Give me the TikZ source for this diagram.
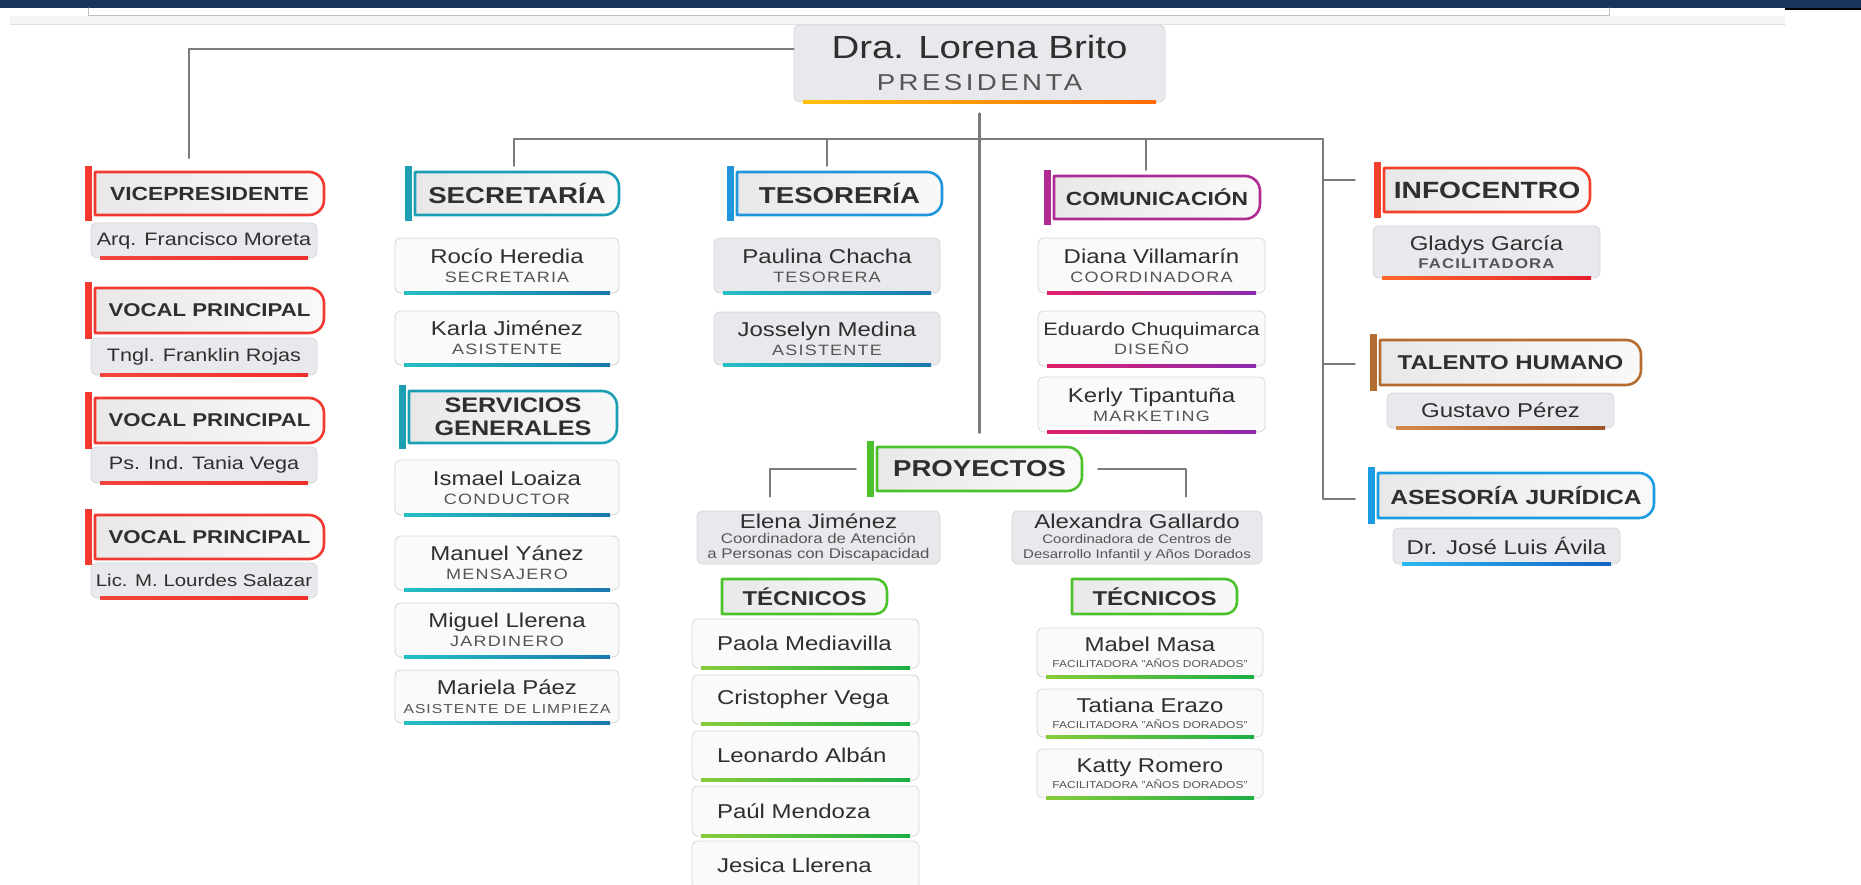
\documentclass[tikz,border=0pt]{standalone}
\usepackage{fontspec}
\setmainfont{Liberation Sans}[FakeStretch=1.2]
\newfontfamily\rolefont{Liberation Sans}[FakeStretch=1.2,LetterSpace=8]
\definecolor{nav}{HTML}{1B355A}
\definecolor{cn}{HTML}{7B7B7B}
\definecolor{tx}{HTML}{2F2F2F}
\definecolor{rlc}{HTML}{555555}
\definecolor{gb}{HTML}{E7E9EC}
\definecolor{wb}{HTML}{FAFAFA}
\definecolor{bx}{HTML}{D4D6D9}
\definecolor{hl}{HTML}{E8E8E8}
\definecolor{hr}{HTML}{F9F9F9}
\definecolor{rd}{HTML}{F3392F}
\definecolor{tl}{HTML}{1C9FB3}
\definecolor{bl}{HTML}{1E95DD}
\definecolor{pu}{HTML}{B02A92}
\definecolor{og}{HTML}{F2402A}
\definecolor{brn}{HTML}{B46C30}
\definecolor{ab}{HTML}{1A9BE3}
\definecolor{gn}{HTML}{4DC12C}
\definecolor{ra}{HTML}{F2453C}\definecolor{rb}{HTML}{F0302A}
\definecolor{ta}{HTML}{24BFC4}\definecolor{tb}{HTML}{1B78AE}
\definecolor{pa}{HTML}{E0206A}\definecolor{pb}{HTML}{8C2BB0}
\definecolor{oa}{HTML}{FF6A2A}\definecolor{ob}{HTML}{E41E2E}
\definecolor{ba}{HTML}{D28A4C}\definecolor{bb}{HTML}{9E5428}
\definecolor{aa}{HTML}{2CB8F2}\definecolor{abb}{HTML}{1463C4}
\definecolor{ga}{HTML}{86CC3A}\definecolor{gbb}{HTML}{1CAE45}
\definecolor{ya}{HTML}{FFC20E}\definecolor{yb}{HTML}{FF6A00}
\begin{document}
\begin{tikzpicture}[x=1pt,y=1pt,line join=round,line cap=round,text=tx,font=\fontsize{20}{19}\selectfont]
\def\fs#1#2{\fontsize{#1}{#2}\selectfont}
\def\rl{\rolefont\fs{15}{19}\color{rlc}}
\def\sm{\fs{14}{15}\color{rlc}}
\def\tn{\fs{12.5}{15}\color{rlc}}
\def\fa{\fs{10}{16}\color{rlc}FACILITADORA "AÑOS DORADOS"}
\tikzset{con/.style={draw=cn,line width=2.2pt},
 pbox/.style={draw=bx,line width=0.8pt,rounded corners=6pt,align=center,inner sep=0pt},
 hdt/.style={align=center,inner sep=0pt},
 ur/.style={left color=ra,right color=rb},ut/.style={left color=ta,right color=tb},
 up/.style={left color=pa,right color=pb},uo/.style={left color=oa,right color=ob},
 ub/.style={left color=ba,right color=bb},ua/.style={left color=aa,right color=abb},
 ug/.style={left color=ga,right color=gbb},uy/.style={left color=ya,right color=yb},un/.style={}}
\def\pb#1#2#3#4#5#6#7#8{\node[pbox,fill=#6,minimum width=#4-#2,minimum height=#5-#3] (#1) at ({(#2+#4)/2},{-(#3+#5)/2}) {#8};
\path[#7] (#2+9,-#5-1.6) rectangle (#4-9,-#5+1.6);}
\useasboundingbox (0,0) rectangle (1861,-885);
\fill[nav] (0,0) rectangle (1861,-8);
\fill[black] (1785,-8) rectangle (1861,-10);
\fill[black!4] (10,-16) rectangle (1785,-25);
\draw[black!12,line width=1pt] (10,-25) -- (1785,-25);
\draw[black!25,line width=1pt] (88,-8) |- (1609,-16) -- (1609,-8);
\foreach \n/\cl/\xa/\ya/\xb/\yb/\s/\txt in {vice/rd/95/172/324/215/19/VICEPRESIDENTE,voca/rd/95/288/324/333/18.5/VOCAL PRINCIPAL,
 vocb/rd/95/398/324/443/18.5/VOCAL PRINCIPAL,vocc/rd/95/515/324/559/18.5/VOCAL PRINCIPAL,sec/tl/415/172/619/215/23/SECRETARÍA,
 serv/tl/409/391/617/443/21/{SERVICIOS\\GENERALES},tes/bl/737/172/942/215/23/TESORERÍA,com/pu/1054/176/1260/219/19/COMUNICACIÓN,
 info/og/1384/168/1590/212/23.5/INFOCENTRO,tal/brn/1380/340/1641/385/20/TALENTO HUMANO,ase/ab/1378/473/1654/518/20.5/ASESORÍA JURÍDICA,
 proy/gn/877/447/1082/491/23/PROYECTOS}{
\fill[\cl] (\xa-10,-\ya+6) rectangle (\xa-3.5,-\yb-6);
\draw[\cl,line width=2.6pt,left color=hl,right color=hr] (\xa,-\yb) -- (\xa,-\ya) -- (\xb-15,-\ya) arc[start angle=90,end angle=0,radius=15] -- (\xb,-\yb+15) arc[start angle=0,end angle=-90,radius=15] -- cycle;
\node[hdt,font=\bfseries\fs{\s}{23},minimum width=\xb-\xa,minimum height=\yb-\ya] (\n) at ({(\xa+\xb)/2},{-(\ya+\yb)/2}) {\txt};
}
\foreach \n/\xa in {tecl/722,tecr/1072}{
\draw[gn,line width=2.6pt,left color=hl,right color=hr] (\xa,-614) -- (\xa,-579) -- (\xa+153,-579) arc[start angle=90,end angle=0,radius=12] -- (\xa+165,-602) arc[start angle=0,end angle=-90,radius=12] -- cycle;
\node[hdt,font=\bfseries\fs{20}{23},minimum width=165,minimum height=35] (\n) at (\xa+82.5,-596.5) {TÉCNICOS};
}
\pb{pres}{794}{25}{1165}{102}{gb}{uy}{\fs{32}{32}Dra. Lorena Brito\\[13pt]\rl\fs{23}{32}\addfontfeature{LetterSpace=15}PRESIDENTA}
\foreach \n/\ya/\yb/\txt in {arq/223/258/Arq. Francisco Moreta,tngl/338/375/Tngl. Franklin Rojas,tania/447/483/Ps. Ind. Tania Vega,lic/563/598/{\fs{17}{19}Lic. M. Lourdes Salazar}}
 {\pb{\n}{91}{\ya}{317}{\yb}{gb}{ur}{\fs{18}{19}\txt}}
\foreach \n/\ya/\yb/\txt in {rocio/238/293/{Rocío Heredia\\\rl SECRETARIA},karla/311/365/{Karla Jiménez\\\rl ASISTENTE},
 ismael/460/515/{Ismael Loaiza\\\rl CONDUCTOR},manuel/536/590/{Manuel Yánez\\\rl MENSAJERO},
 miguel/603/657/{Miguel Llerena\\\rl JARDINERO},mariela/670/723/{Mariela Páez\\\rl\fs{13}{19}ASISTENTE DE LIMPIEZA}}
 {\pb{\n}{395}{\ya}{619}{\yb}{wb}{ut}{\txt}}
\foreach \n/\ya/\yb/\txt in {paulina/238/293/{Paulina Chacha\\\rl TESORERA},josselyn/312/365/{Josselyn Medina\\\rl ASISTENTE}}
 {\pb{\n}{714}{\ya}{940}{\yb}{gb}{ut}{\txt}}
\foreach \n/\ya/\yb/\txt in {diana/238/293/{Diana Villamarín\\\rl COORDINADORA},eduardo/311/366/{\fs{18}{19}Eduardo Chuquimarca\\\rl DISEÑO},
 kerly/377/432/{Kerly Tipantuña\\\rl MARKETING}}
 {\pb{\n}{1038}{\ya}{1265}{\yb}{wb}{up}{\txt}}
\pb{gladys}{1373}{226}{1600}{278}{gb}{uo}{Gladys García\\[-1pt]\rl\bfseries\fs{14}{18}FACILITADORA}
\pb{gustavo}{1387}{393}{1614}{428}{gb}{ub}{Gustavo Pérez}
\pb{jose}{1393}{528}{1620}{564}{gb}{ua}{Dr. José Luis Ávila}
\pb{elena}{697}{511}{940}{564}{gb}{un}{Elena Jiménez\\[-4pt]\sm Coordinadora de Atención\\[-4pt]\sm a Personas con Discapacidad}
\pb{alex}{1012}{511}{1262}{564}{gb}{un}{Alexandra Gallardo\\[-4pt]\tn Coordinadora de Centros de\\[-4pt]\tn Desarrollo Infantil y Años Dorados}
\foreach \n/\ya/\yb/\txt in {paola/619/668/Paola Mediavilla,cris/675/724/Cristopher Vega,leo/731/780/Leonardo Albán,
 paul/786/836/Paúl Mendoza,jesica/841/890/Jesica Llerena}
 {\pb{\n}{692}{\ya}{919}{\yb}{wb}{ug}{\makebox[177pt][l]{\txt}}}
\foreach \n/\ya/\yb/\txt in {mabel/628/677/Mabel Masa,tati/689/737/Tatiana Erazo,katty/749/798/Katty Romero}
 {\pb{\n}{1037}{\ya}{1263}{\yb}{wb}{ug}{\txt\\[-3pt]\fa}}
\coordinate (vt) at (189,-158);
\coordinate (br) at (1323,-139);
\draw[con] ([yshift=14.5]pres.west) -| (vt);
\draw[con] ([yshift=-11]pres.south) -- ([yshift=14]proy.north);
\draw[con] ([xshift=-3,yshift=6]sec.north) |- (br) |- ([xshift=-23,yshift=-3.5]ase.west);
\draw[con] ([xshift=-12.5,yshift=6]tes.north) -- ++(0,27);
\draw[con] ([xshift=-11,yshift=6]com.north) -- ++(0,31);
\draw[con] ([xshift=-29,yshift=10]info.west) -- ++(-32,0);
\draw[con] ([xshift=-25,yshift=-1.5]tal.west) -- ++(-32,0);
\draw[con] ([xshift=-21]proy.west) -| ([xshift=-48.5,yshift=14]elena.north);
\draw[con] ([xshift=16]proy.east) -| ([xshift=49,yshift=14]alex.north);
\end{tikzpicture}
\end{document}
